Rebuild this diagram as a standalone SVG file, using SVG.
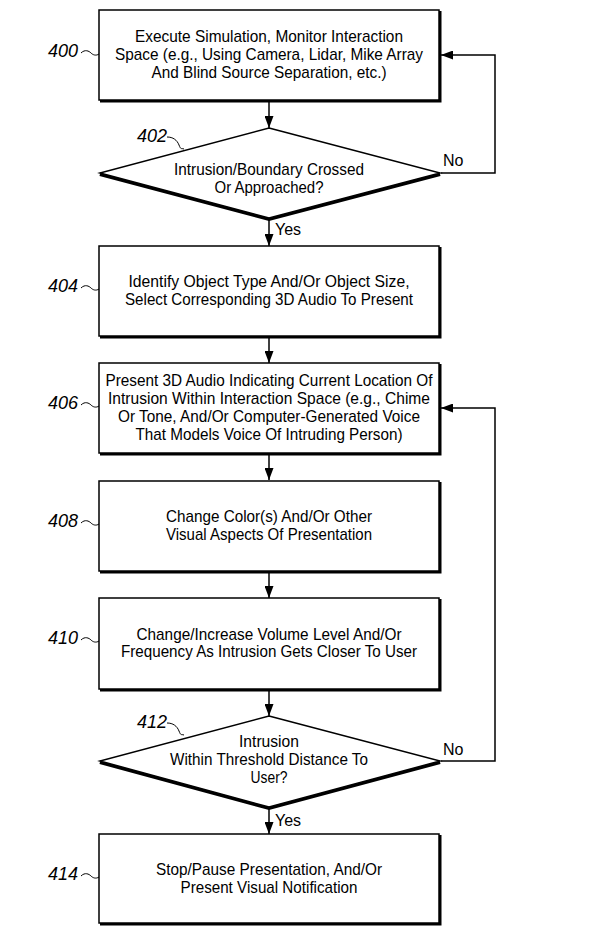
<svg xmlns="http://www.w3.org/2000/svg" width="615" height="946" viewBox="0 0 615 946">
<style>
.box{fill:#fff;stroke:#000;stroke-width:1.5}
.sh{fill:none;stroke:#000;stroke-width:3}
.dsh{fill:none;stroke:#000;stroke-width:4;stroke-linejoin:miter}
.t{font-family:"Liberation Sans",Arial,sans-serif;font-size:17px;fill:#000;text-anchor:middle}
.lbl{font-family:"Liberation Sans",Arial,sans-serif;font-size:18px;font-style:italic;fill:#000}
.sm{font-family:"Liberation Sans",Arial,sans-serif;font-size:16px;fill:#000}
.ln{fill:none;stroke:#000;stroke-width:1.5}
.sq{fill:none;stroke:#000;stroke-width:1}
</style>
<defs>
<marker id="ah2" viewBox="0 0 10 10" refX="10" refY="5" markerWidth="12" markerHeight="9" markerUnits="userSpaceOnUse" orient="auto" preserveAspectRatio="none">
<path d="M0,0 L10,5 L0,10 z" fill="#000"/>
</marker>
</defs>

<g id="connectors">
<line class="ln" x1="269" y1="101" x2="269" y2="128" marker-end="url(#ah2)"/>
<line class="ln" x1="269" y1="220" x2="269" y2="246" marker-end="url(#ah2)"/>
<line class="ln" x1="269" y1="338" x2="269" y2="363" marker-end="url(#ah2)"/>
<line class="ln" x1="269" y1="455" x2="269" y2="480" marker-end="url(#ah2)"/>
<line class="ln" x1="269" y1="573" x2="269" y2="598" marker-end="url(#ah2)"/>
<line class="ln" x1="269" y1="691" x2="269" y2="716" marker-end="url(#ah2)"/>
<line class="ln" x1="269" y1="809" x2="269" y2="834" marker-end="url(#ah2)"/>
<polyline class="ln" points="441,173 495,173 495,55 441,55" marker-end="url(#ah2)"/>
<polyline class="ln" points="441,761 495,761 495,408 441,408" marker-end="url(#ah2)"/>
<text class="sm" x="443" y="166">No</text>
<text class="sm" x="275" y="235">Yes</text>
<text class="sm" x="443" y="755">No</text>
<text class="sm" x="275" y="826">Yes</text>
</g>

<g id="n400">
<polyline class="sh" points="440,11 440,101 100,101"/>
<rect class="box" x="99" y="10" width="340" height="90"/>
<text class="t" x="269" y="42" textLength="268" lengthAdjust="spacingAndGlyphs">Execute Simulation, Monitor Interaction</text>
<text class="t" x="269" y="60" textLength="308" lengthAdjust="spacingAndGlyphs">Space (e.g., Using Camera, Lidar, Mike Array</text>
<text class="t" x="269" y="78" textLength="235" lengthAdjust="spacingAndGlyphs">And Blind Source Separation, etc.)</text>
<text class="lbl" x="48" y="57">400</text>
<path class="sq" d="M81,53 C85,49 89,51 91,53 S96,56 99,54"/>
</g>

<g id="n402">
<polyline class="dsh" points="100,174 269,219 440,174"/>
<polygon class="box" points="269,128 440,173 269,218 100,173"/>
<text class="t" x="269" y="175" textLength="190" lengthAdjust="spacingAndGlyphs">Intrusion/Boundary Crossed</text>
<text class="t" x="269" y="193" textLength="109" lengthAdjust="spacingAndGlyphs">Or Approached?</text>
<text class="lbl" x="137" y="142">402</text>
<path class="sq" d="M167,137 C173,137 177,140 179,145 S181,148 184,149"/>
</g>

<g id="n404">
<polyline class="sh" points="440,247 440,337 100,337"/>
<rect class="box" x="99" y="246" width="340" height="90"/>
<text class="t" x="269" y="286.5" textLength="281" lengthAdjust="spacingAndGlyphs">Identify Object Type And/Or Object Size,</text>
<text class="t" x="269" y="304.5" textLength="288" lengthAdjust="spacingAndGlyphs">Select Corresponding 3D Audio To Present</text>
<text class="lbl" x="48" y="292">404</text>
<path class="sq" d="M81,288 C85,284 89,286 91,288 S96,291 99,289"/>
</g>

<g id="n406">
<polyline class="sh" points="440,364 440,454 100,454"/>
<rect class="box" x="99" y="363" width="340" height="90"/>
<text class="t" x="269" y="386" textLength="327" lengthAdjust="spacingAndGlyphs">Present 3D Audio Indicating Current Location Of</text>
<text class="t" x="269" y="403.5" textLength="322" lengthAdjust="spacingAndGlyphs">Intrusion Within Interaction Space (e.g., Chime</text>
<text class="t" x="269" y="421.5" textLength="302" lengthAdjust="spacingAndGlyphs">Or Tone, And/Or Computer-Generated Voice</text>
<text class="t" x="269" y="439.5" textLength="267" lengthAdjust="spacingAndGlyphs">That Models Voice Of Intruding Person)</text>
<text class="lbl" x="48" y="409">406</text>
<path class="sq" d="M81,405 C85,401 89,403 91,405 S96,408 99,406"/>
</g>

<g id="n408">
<polyline class="sh" points="440,482 440,572 100,572"/>
<rect class="box" x="99" y="481" width="340" height="90"/>
<text class="t" x="269" y="522" textLength="206" lengthAdjust="spacingAndGlyphs">Change Color(s) And/Or Other</text>
<text class="t" x="269" y="539.5" textLength="206" lengthAdjust="spacingAndGlyphs">Visual Aspects Of Presentation</text>
<text class="lbl" x="48" y="527">408</text>
<path class="sq" d="M81,523 C85,519 89,521 91,523 S96,526 99,524"/>
</g>

<g id="n410">
<polyline class="sh" points="440,599 440,690 100,690"/>
<rect class="box" x="99" y="598" width="340" height="91"/>
<text class="t" x="269" y="639.5" textLength="265" lengthAdjust="spacingAndGlyphs">Change/Increase Volume Level And/Or</text>
<text class="t" x="269" y="657" textLength="296" lengthAdjust="spacingAndGlyphs">Frequency As Intrusion Gets Closer To User</text>
<text class="lbl" x="48" y="644">410</text>
<path class="sq" d="M81,640 C85,636 89,638 91,640 S96,643 99,641"/>
</g>

<g id="n412">
<polyline class="dsh" points="100,762 269,808 440,762"/>
<polygon class="box" points="269,716 440,761 269,807 100,761"/>
<text class="t" x="269" y="747" textLength="60" lengthAdjust="spacingAndGlyphs">Intrusion</text>
<text class="t" x="269" y="765" textLength="198" lengthAdjust="spacingAndGlyphs">Within Threshold Distance To</text>
<text class="t" x="269" y="783" textLength="37" lengthAdjust="spacingAndGlyphs">User?</text>
<text class="lbl" x="137" y="728">412</text>
<path class="sq" d="M167,723 C173,723 177,726 179,731 S181,734 184,735"/>
</g>

<g id="n414">
<polyline class="sh" points="440,835 440,924 100,924"/>
<rect class="box" x="99" y="834" width="340" height="89"/>
<text class="t" x="269" y="875" textLength="226" lengthAdjust="spacingAndGlyphs">Stop/Pause Presentation, And/Or</text>
<text class="t" x="269" y="893" textLength="177" lengthAdjust="spacingAndGlyphs">Present Visual Notification</text>
<text class="lbl" x="48" y="880">414</text>
<path class="sq" d="M81,876 C85,872 89,874 91,876 S96,879 99,877"/>
</g>
</svg>
